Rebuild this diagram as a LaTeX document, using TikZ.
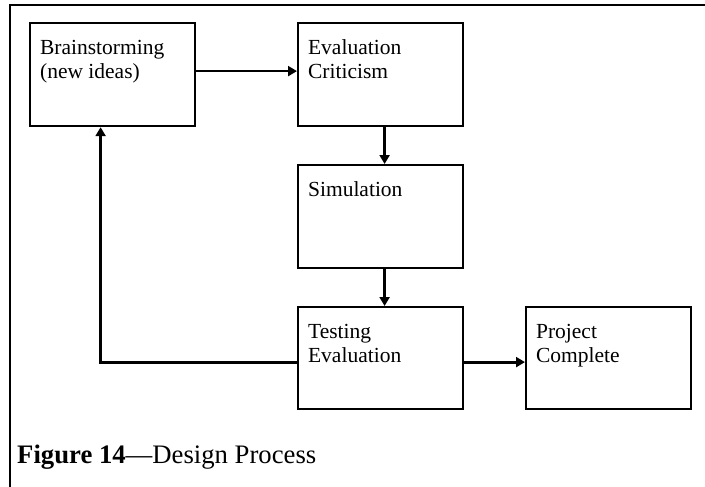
\documentclass[tikz,border=0pt]{standalone}
\usepackage{fontspec}
\setmainfont{Liberation Serif}
\usetikzlibrary{arrows.meta}
\tikzset{
  stagebox/.style={draw, line width=2.2pt, inner xsep=10pt, inner ysep=0pt, anchor=north west,
    font=\fontsize{21.5}{24}\selectfont},
  flow/.style={line width=2.8pt, -{Triangle[length=9pt,width=10pt]}},
  frameline/.style={line width=2.6pt}
}
\newcommand{\stagetext}[2]{\parbox[t][#1][t]{145pt}{\rule{0pt}{31pt}#2}}
\begin{document}
\begin{tikzpicture}[x=1pt,y=-1pt]
\useasboundingbox (0,0) rectangle (705,487);
% outer frame (top and left sides visible)
\coordinate (fbl) at (10,487);
\coordinate (ftl) at (10,5);
\coordinate (ftr) at (705,5);
\draw[frameline] (fbl) -- (ftl) -- (ftr);
% boxes
\node[stagebox] (B) at (29,22)  {\stagetext{103pt}{Brainstorming\\(new ideas)}};
\node[stagebox] (E) at (297,22) {\stagetext{103pt}{Evaluation\\Criticism}};
\node[stagebox] (S) at (297,164){\stagetext{103pt}{Simulation}};
\node[stagebox] (T) at (297,306){\stagetext{102pt}{Testing\\Evaluation}};
\node[stagebox] (P) at (525,306){\stagetext{102pt}{Project\\Complete}};
% connectors
\draw[flow] ([yshift=3.5pt]B.east) -- ([yshift=3.5pt]E.west);
\draw[flow] ([xshift=4pt]E.south) -- ([xshift=4pt]S.north);
\draw[flow] ([xshift=4pt]S.south) -- ([xshift=4pt]T.north);
\draw[flow] ([yshift=-4pt]T.east) -- ([yshift=-4pt]P.west);
\draw[flow] ([yshift=-4pt]T.west) -| ([xshift=-12pt]B.south);
% caption
\node[anchor=base west, inner sep=0pt, font=\fontsize{26.7}{30}\selectfont] (cap) at (17,463)
  {\textbf{Figure 14}—Design Process};
\end{tikzpicture}
\end{document}
